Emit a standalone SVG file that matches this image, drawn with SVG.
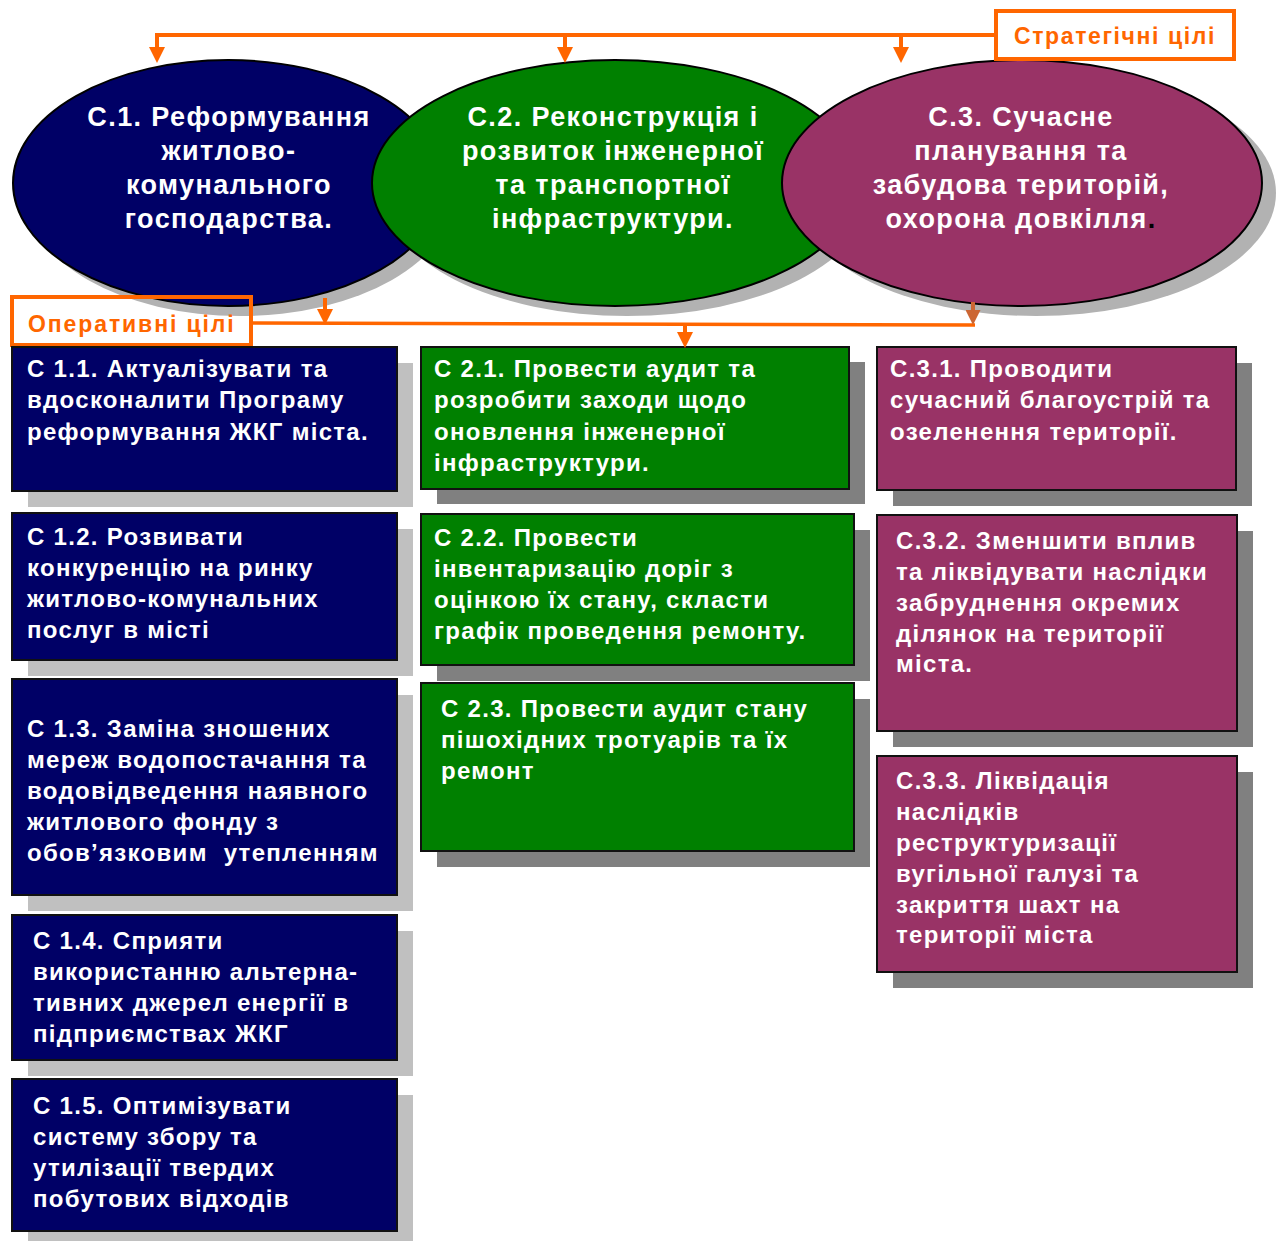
<svg xmlns="http://www.w3.org/2000/svg" width="1280" height="1241" viewBox="0 0 1280 1241">
<defs>
<style>
.et{font-family:"Liberation Sans",Arial,sans-serif;font-weight:bold;font-size:27px;fill:#fff;text-anchor:middle;letter-spacing:1.4px}
.bt{font-family:"Liberation Sans",Arial,sans-serif;font-weight:bold;font-size:24px;fill:#fff;letter-spacing:1.3px;white-space:pre}
.lbl{font-family:"Liberation Sans",Arial,sans-serif;font-weight:bold;font-size:23px;fill:#FF6600;letter-spacing:1.6px}
.ell{stroke:#000;stroke-width:2}
.esh{fill:#B2B2B2}
.box{stroke:#111;stroke-width:2}
.shL{fill:#C0C0C0}
.shD{fill:#808080}
.blue{fill:#000066}
.green{fill:#008000}
.purple{fill:#993366}
.con{fill:none;stroke:#FF6600;stroke-width:4}
.con2{fill:none;stroke:#FF6600;stroke-width:3.5}
</style>
<marker id="ah" viewBox="0 0 10 10" refX="0" refY="5" markerUnits="userSpaceOnUse" markerWidth="17" markerHeight="16" orient="auto">
<path d="M0,0 L10,5 L0,10 z" fill="#FF6600"/>
</marker>
<marker id="ah2" viewBox="0 0 10 10" refX="0" refY="5" markerUnits="userSpaceOnUse" markerWidth="16" markerHeight="15" orient="auto">
<path d="M0,0 L10,5 L0,10 z" fill="#CC6633"/>
</marker>
</defs>
<rect width="1280" height="1241" fill="#fff"/>

<g id="c1">
<ellipse class="esh" cx="240" cy="193" rx="215" ry="123"/>
<ellipse class="ell blue" cx="228" cy="183" rx="215" ry="123"/>
<text class="et"><tspan x="229" y="126">С.1. Реформування</tspan><tspan x="229" y="160">житлово-</tspan><tspan x="229" y="194">комунального</tspan><tspan x="229" y="228">господарства.</tspan></text>
</g>
<g id="c2">
<ellipse class="esh" cx="627" cy="193" rx="243" ry="123"/>
<ellipse class="ell green" cx="615" cy="183" rx="243" ry="123"/>
<text class="et"><tspan x="613" y="126">С.2. Реконструкція і</tspan><tspan x="613" y="160">розвиток інженерної</tspan><tspan x="613" y="194">та транспортної</tspan><tspan x="613" y="228">інфраструктури.</tspan></text>
</g>
<g id="c3">
<ellipse class="esh" cx="1036" cy="193" rx="240" ry="123"/>
<ellipse class="ell purple" cx="1022" cy="183" rx="240" ry="123"/>
<text class="et"><tspan x="1021" y="126">С.3. Сучасне</tspan><tspan x="1021" y="160">планування та</tspan><tspan x="1021" y="194">забудова територій,</tspan><tspan x="1021" y="228">охорона довкілля<tspan style="fill:#000">.</tspan></tspan></text>
</g>

<g id="strategic">
<rect x="996" y="11" width="238" height="48" fill="#fff" stroke="#FF6600" stroke-width="4"/>
<text class="lbl" x="1115" y="44" text-anchor="middle">Стратегічні цілі</text>
</g>

<g id="operational">
<rect x="12" y="297" width="239" height="48" fill="none" stroke="#FF6600" stroke-width="4"/>
<text class="lbl" x="28" y="332" style="letter-spacing:1.9px">Оперативні цілі</text>
</g>

<g id="b11">
<rect class="shL" x="28" y="363" width="385" height="144"/>
<rect class="box blue" x="12" y="347" width="385" height="144"/>
<text class="bt"><tspan x="27" y="377">С 1.1. Актуалізувати та</tspan><tspan x="27" y="408">вдосконалити Програму</tspan><tspan x="27" y="440">реформування ЖКГ міста.</tspan></text>
</g>
<g id="b12">
<rect class="shL" x="28" y="529" width="385" height="147"/>
<rect class="box blue" x="12" y="513" width="385" height="147"/>
<text class="bt"><tspan x="27" y="545">С 1.2. Розвивати</tspan><tspan x="27" y="576">конкуренцію на ринку</tspan><tspan x="27" y="607">житлово-комунальних</tspan><tspan x="27" y="638">послуг в місті</tspan></text>
</g>
<g id="b13">
<rect class="shL" x="28" y="695" width="385" height="216"/>
<rect class="box blue" x="12" y="679" width="385" height="216"/>
<text class="bt"><tspan x="27" y="737">С 1.3. Заміна зношених</tspan><tspan x="27" y="768">мереж водопостачання та</tspan><tspan x="27" y="799">водовідведення наявного</tspan><tspan x="27" y="830">житлового фонду з</tspan><tspan x="27" y="861">обов’язковим  утепленням</tspan></text>
</g>
<g id="b14">
<rect class="shL" x="28" y="931" width="385" height="145"/>
<rect class="box blue" x="12" y="915" width="385" height="145"/>
<text class="bt"><tspan x="33" y="949">С 1.4. Сприяти</tspan><tspan x="33" y="980">використанню альтерна-</tspan><tspan x="33" y="1011">тивних джерел енергії в</tspan><tspan x="33" y="1042">підприємствах ЖКГ</tspan></text>
</g>
<g id="b15">
<rect class="shL" x="28" y="1095" width="385" height="152"/>
<rect class="box blue" x="12" y="1079" width="385" height="152"/>
<text class="bt"><tspan x="33" y="1114">С 1.5. Оптимізувати</tspan><tspan x="33" y="1145">систему збору та</tspan><tspan x="33" y="1176">утилізації твердих</tspan><tspan x="33" y="1207">побутових відходів</tspan></text>
</g>

<g id="b21">
<rect class="shD" x="437" y="362" width="428" height="142"/>
<rect class="box green" x="421" y="347" width="428" height="142"/>
<text class="bt"><tspan x="434" y="377">С 2.1. Провести аудит та</tspan><tspan x="434" y="408">розробити заходи щодо</tspan><tspan x="434" y="440">оновлення інженерної</tspan><tspan x="434" y="471">інфраструктури.</tspan></text>
</g>
<g id="b22">
<rect class="shD" x="437" y="530" width="433" height="151"/>
<rect class="box green" x="421" y="514" width="433" height="151"/>
<text class="bt"><tspan x="434" y="546">С 2.2. Провести</tspan><tspan x="434" y="577">інвентаризацію доріг з</tspan><tspan x="434" y="608">оцінкою їх стану, скласти</tspan><tspan x="434" y="639">графік проведення ремонту.</tspan></text>
</g>
<g id="b23">
<rect class="shD" x="437" y="699" width="433" height="168"/>
<rect class="box green" x="421" y="683" width="433" height="168"/>
<text class="bt"><tspan x="441" y="717">С 2.3. Провести аудит стану</tspan><tspan x="441" y="748">пішохідних тротуарів та їх</tspan><tspan x="441" y="779">ремонт</tspan></text>
</g>

<g id="b31">
<rect class="shD" x="893" y="363" width="359" height="143"/>
<rect class="box purple" x="877" y="347" width="359" height="143"/>
<text class="bt"><tspan x="890" y="377">С.3.1. Проводити</tspan><tspan x="890" y="408">сучасний благоустрій та</tspan><tspan x="890" y="440">озеленення території.</tspan></text>
</g>
<g id="b32">
<rect class="shD" x="893" y="531" width="360" height="216"/>
<rect class="box purple" x="877" y="515" width="360" height="216"/>
<text class="bt"><tspan x="896" y="549">С.3.2. Зменшити вплив</tspan><tspan x="896" y="580">та ліквідувати наслідки</tspan><tspan x="896" y="611">забруднення окремих</tspan><tspan x="896" y="642">ділянок на території</tspan><tspan x="896" y="672">міста.</tspan></text>
</g>
<g id="b33">
<rect class="shD" x="893" y="772" width="360" height="216"/>
<rect class="box purple" x="877" y="756" width="360" height="216"/>
<text class="bt"><tspan x="896" y="789">С.3.3. Ліквідація</tspan><tspan x="896" y="820">наслідків</tspan><tspan x="896" y="851">реструктуризації</tspan><tspan x="896" y="882">вугільної галузі та</tspan><tspan x="896" y="913">закриття шахт на</tspan><tspan x="896" y="943">території міста</tspan></text>
</g>

<g id="connectors">
<path class="con" d="M996,35 H157 V47" marker-end="url(#ah)"/>
<path class="con" d="M565,35 V47" marker-end="url(#ah)"/>
<path class="con" d="M901,35 V47" marker-end="url(#ah)"/>
<path class="con2" d="M251,323 L975,325"/>
<path class="con" d="M325,298 V309" marker-end="url(#ah)"/>
<path class="con" d="M685,325 V332" marker-end="url(#ah)"/>
<path fill="none" stroke="#CC6633" stroke-width="4" d="M973,302 V310" marker-end="url(#ah2)"/>
</g>
</svg>
